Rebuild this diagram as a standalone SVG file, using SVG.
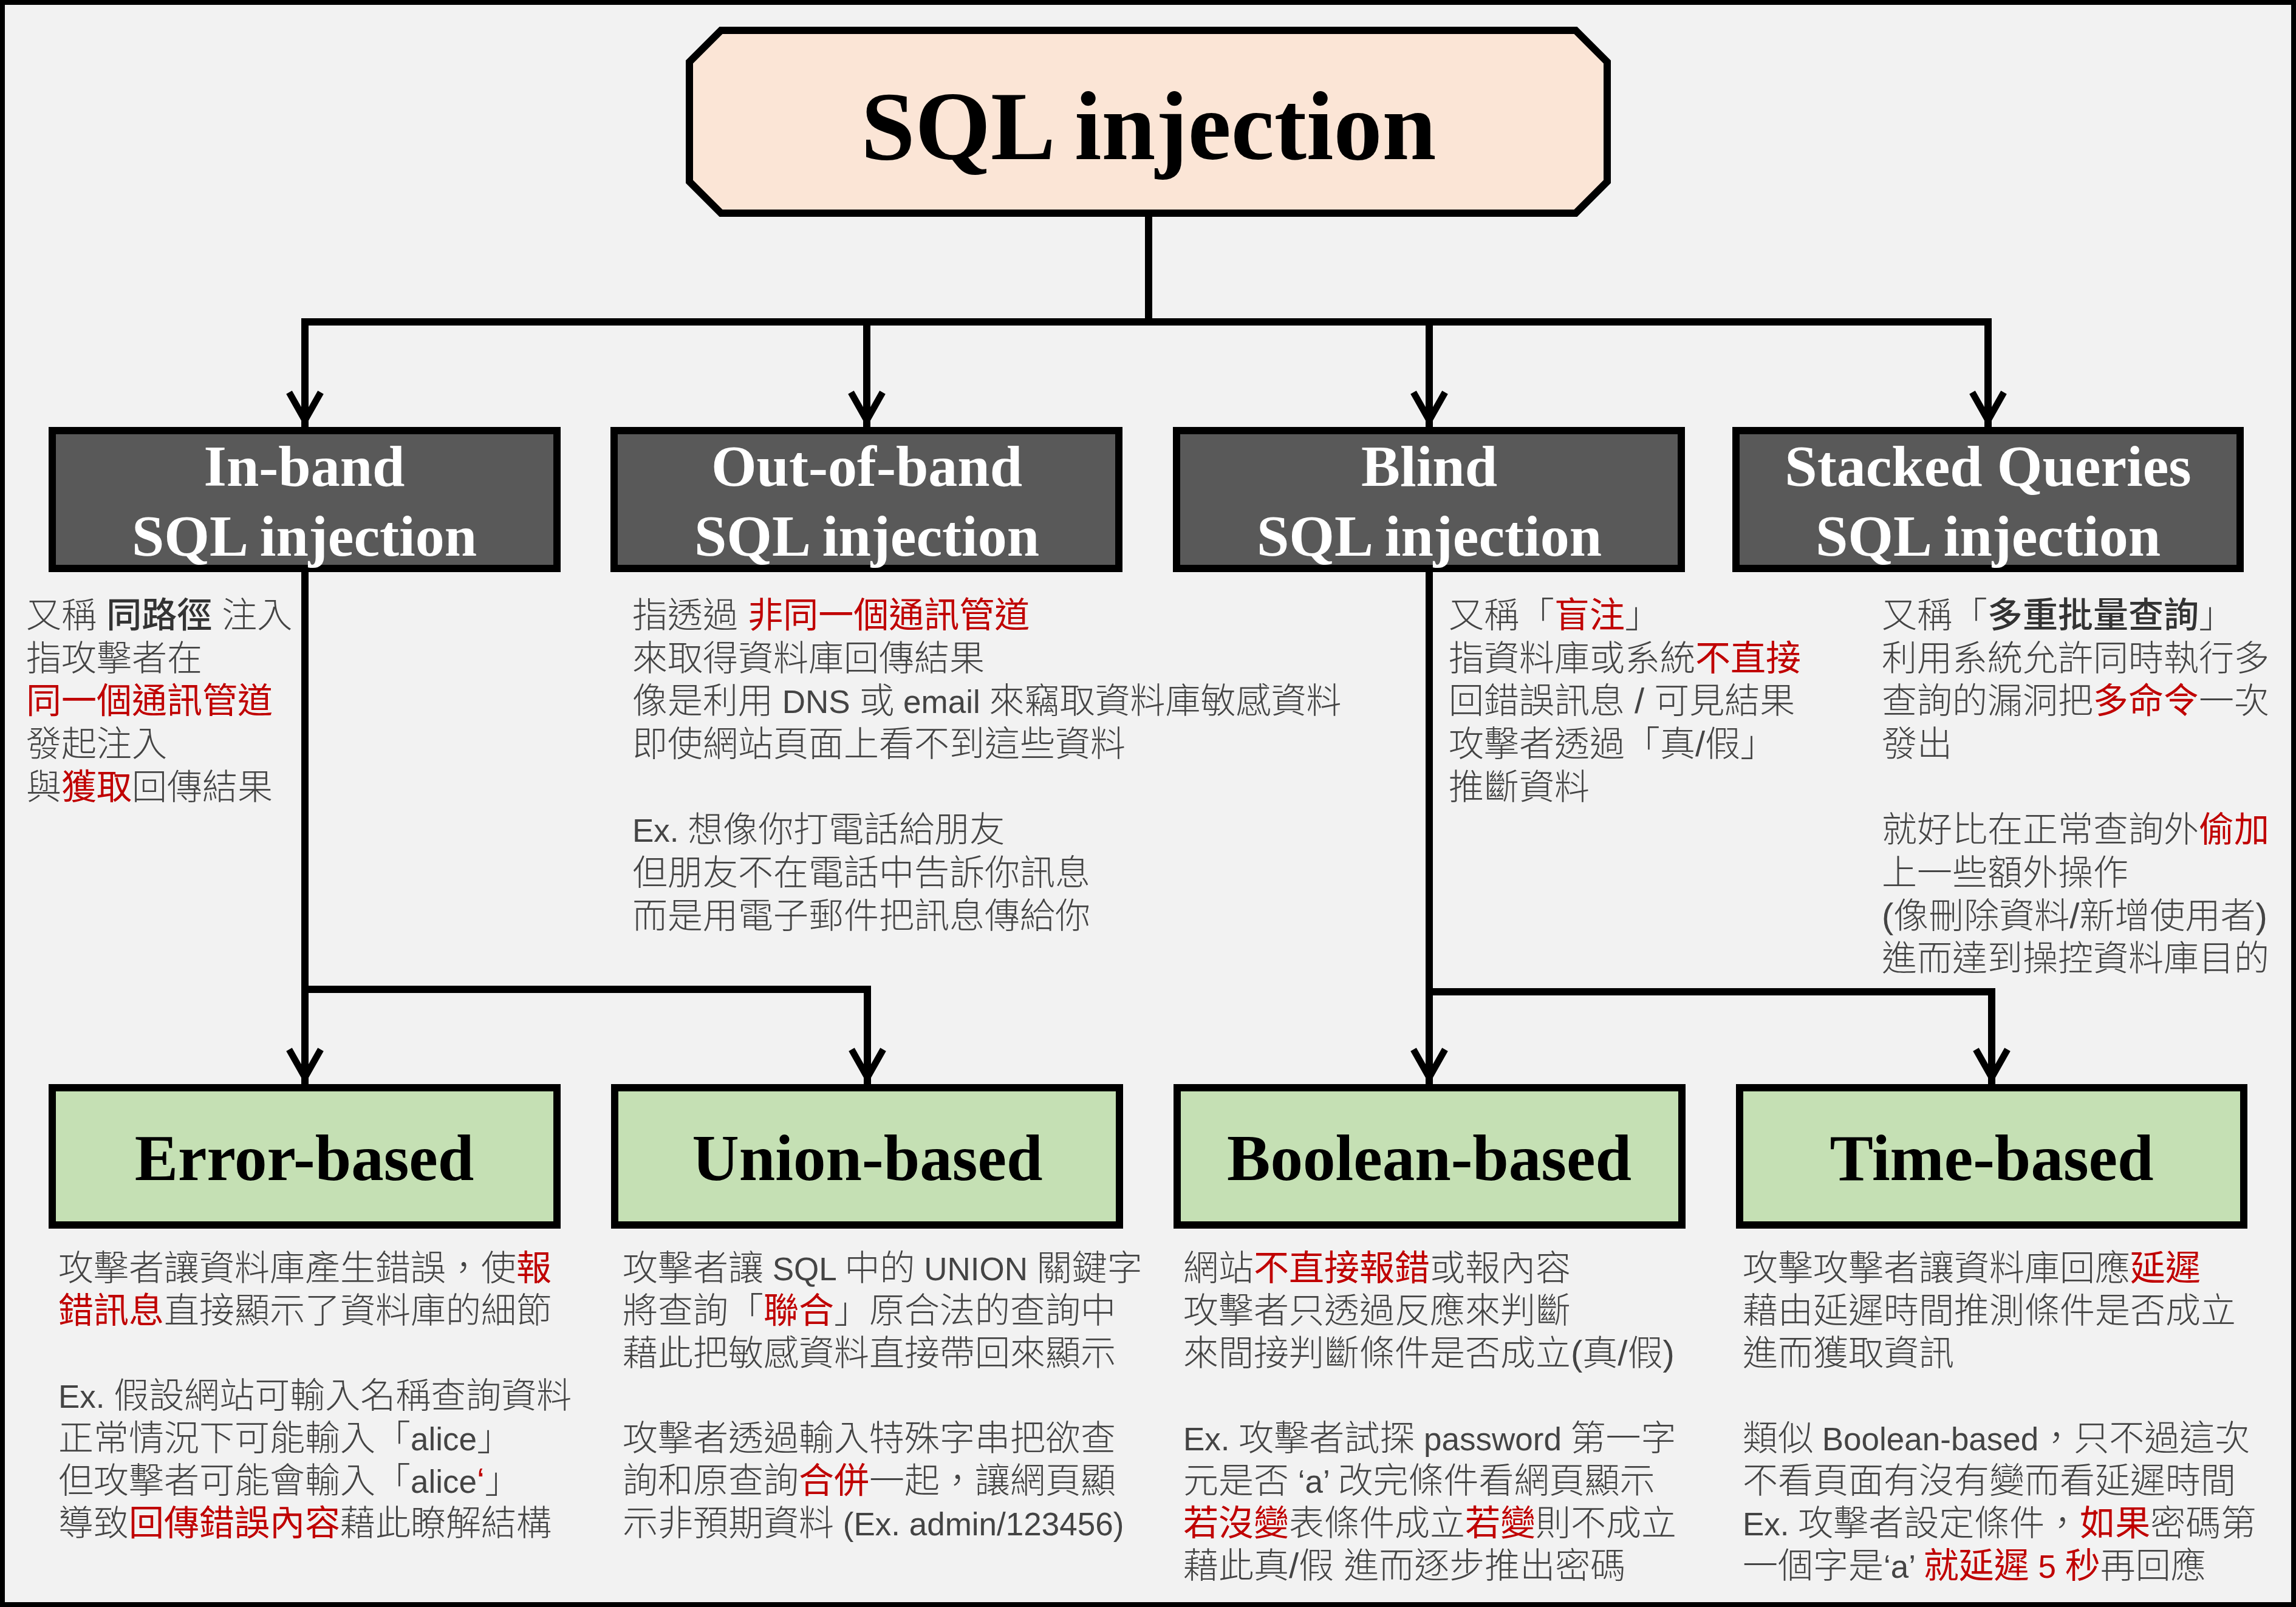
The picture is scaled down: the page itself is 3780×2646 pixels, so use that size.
<svg xmlns="http://www.w3.org/2000/svg" width="3780" height="2646" viewBox="0 0 3780 2646">
<defs>
<style>
.bg{fill:#f2f2f2}
.frame{fill:none;stroke:#000;stroke-width:8}
.title{fill:#fbe5d6;stroke:#000;stroke-width:12}
.l2{fill:#595959;stroke:#000;stroke-width:12}
.l3{fill:#c5e0b4;stroke:#000;stroke-width:12}
.ttl{font-family:"Liberation Serif","Times New Roman",serif;font-weight:bold;text-anchor:middle}
.t1{font-size:160px;fill:#000}
.t2{font-size:96px;fill:#fff}
.t3{font-size:107px;fill:#000}
.d{font-family:"Liberation Sans","Noto Sans CJK TC","Noto Sans CJK SC",sans-serif;font-size:58px;fill:#444;font-weight:300}
.l{font-size:53px}
.r{fill:#c00000;font-weight:400}
.b{font-weight:500;fill:#333}
.c{fill:none;stroke:#000;stroke-width:12;stroke-linecap:butt}
.a{marker-end:url(#arr)}
</style>
<marker id="arr" markerUnits="userSpaceOnUse" viewBox="-70 -40 80 80" markerWidth="80" markerHeight="80" refX="0" refY="0" orient="auto" overflow="visible">
<path d="M-57,-26 L-11,0 L-57,26" fill="none" stroke="#000" stroke-width="11" stroke-linejoin="miter" stroke-miterlimit="10"/>
</marker>
</defs>
<rect class="bg" x="0" y="0" width="3780" height="2646"/>
<rect class="frame" x="4" y="4" width="3772" height="2638"/>

<g id="connectors">
<path class="c" d="M1891,357 V530"/>
<path class="c" d="M496,530 H3279"/>
<path class="c a" d="M502,530 V703"/>
<path class="c a" d="M1427,530 V703"/>
<path class="c a" d="M2353,530 V703"/>
<path class="c a" d="M3273,530 V703"/>
<path class="c" d="M502,942 V1629"/>
<path class="c" d="M496,1629 H1434"/>
<path class="c a" d="M502,1629 V1785"/>
<path class="c a" d="M1428,1629 V1785"/>
<path class="c" d="M2353,942 V1633"/>
<path class="c" d="M2347,1633 H3285"/>
<path class="c a" d="M2353,1633 V1785"/>
<path class="c a" d="M3279,1633 V1785"/>
</g>

<g id="root">
<polygon class="title" points="1187,50 2594,50 2646,102 2646,299 2594,351 1187,351 1135,299 1135,102"/>
<text class="ttl t1" x="1891" y="262">SQL injection</text>
</g>

<g id="inband">
<rect class="l2" x="86" y="709" width="831" height="227"/>
<text class="ttl t2"><tspan x="501" y="800">In-band</tspan><tspan x="501" y="915">SQL injection</tspan></text>
<text class="d"><tspan x="43" y="1033">又稱 </tspan><tspan class="b">同路徑</tspan><tspan> 注入</tspan><tspan x="43" y="1104">指攻擊者在</tspan><tspan x="43" y="1174" class="r">同一個通訊管道</tspan><tspan x="43" y="1245">發起注入</tspan><tspan x="43" y="1316">與</tspan><tspan class="r">獲取</tspan><tspan>回傳結果</tspan></text>
</g>

<g id="outofband">
<rect class="l2" x="1011" y="709" width="831" height="227"/>
<text class="ttl t2"><tspan x="1427" y="800">Out-of-band</tspan><tspan x="1427" y="915">SQL injection</tspan></text>
<text class="d"><tspan x="1041" y="1033">指透過 </tspan><tspan class="r">非同一個通訊管道</tspan><tspan x="1041" y="1104">來取得資料庫回傳結果</tspan><tspan x="1041" y="1174">像是利用</tspan><tspan class="l"> DNS </tspan><tspan>或</tspan><tspan class="l"> email </tspan><tspan>來竊取資料庫敏感資料</tspan><tspan x="1041" y="1245">即使網站頁面上看不到這些資料</tspan><tspan x="1041" y="1386" class="l">Ex. </tspan><tspan>想像你打電話給朋友</tspan><tspan x="1041" y="1457">但朋友不在電話中告訴你訊息</tspan><tspan x="1041" y="1528">而是用電子郵件把訊息傳給你</tspan></text>
</g>

<g id="blind">
<rect class="l2" x="1937" y="709" width="831" height="227"/>
<text class="ttl t2"><tspan x="2353" y="800">Blind</tspan><tspan x="2353" y="915">SQL injection</tspan></text>
<text class="d"><tspan x="2385" y="1033">又稱「</tspan><tspan class="r">盲注</tspan><tspan>」</tspan><tspan x="2385" y="1104">指資料庫或系統</tspan><tspan class="r">不直接</tspan><tspan x="2385" y="1174">回錯誤訊息 / 可見結果</tspan><tspan x="2385" y="1245">攻擊者透過「真/假」</tspan><tspan x="2385" y="1316">推斷資料</tspan></text>
</g>

<g id="stacked">
<rect class="l2" x="2858" y="709" width="830" height="227"/>
<text class="ttl t2"><tspan x="3273" y="800">Stacked Queries</tspan><tspan x="3273" y="915">SQL injection</tspan></text>
<text class="d"><tspan x="3098" y="1033">又稱「</tspan><tspan class="b">多重批量查詢</tspan><tspan>」</tspan><tspan x="3098" y="1104">利用系統允許同時執行多</tspan><tspan x="3098" y="1174">查詢的漏洞把</tspan><tspan class="r">多命令</tspan><tspan>一次</tspan><tspan x="3098" y="1245">發出</tspan><tspan x="3098" y="1386">就好比在正常查詢外</tspan><tspan class="r">偷加</tspan><tspan x="3098" y="1457">上一些額外操作</tspan><tspan x="3098" y="1528">(像刪除資料/新增使用者)</tspan><tspan x="3098" y="1598">進而達到操控資料庫目的</tspan></text>
</g>

<g id="errorbased">
<rect class="l3" x="86" y="1791" width="831" height="226"/>
<text class="ttl t3" x="501" y="1943">Error-based</text>
<text class="d"><tspan x="96" y="2108">攻擊者讓資料庫產生錯誤，使</tspan><tspan class="r">報</tspan><tspan x="96" y="2178" class="r">錯訊息</tspan><tspan>直接顯示了資料庫的細節</tspan><tspan x="96" y="2318" class="l">Ex. </tspan><tspan>假設網站可輸入名稱查詢資料</tspan><tspan x="96" y="2388">正常情況下可能輸入「</tspan><tspan class="l">alice</tspan><tspan>」</tspan><tspan x="96" y="2458">但攻擊者可能會輸入「</tspan><tspan class="l">alice</tspan><tspan class="r">‘</tspan><tspan>」</tspan><tspan x="96" y="2528">導致</tspan><tspan class="r">回傳錯誤內容</tspan><tspan>藉此瞭解結構</tspan></text>
</g>

<g id="unionbased">
<rect class="l3" x="1012" y="1791" width="831" height="226"/>
<text class="ttl t3" x="1428" y="1943">Union-based</text>
<text class="d"><tspan x="1025" y="2108">攻擊者讓</tspan><tspan class="l"> SQL </tspan><tspan>中的</tspan><tspan class="l"> UNION </tspan><tspan>關鍵字</tspan><tspan x="1025" y="2178">將查詢「</tspan><tspan class="r">聯合</tspan><tspan>」原合法的查詢中</tspan><tspan x="1025" y="2248">藉此把敏感資料直接帶回來顯示</tspan><tspan x="1025" y="2388">攻擊者透過輸入特殊字串把欲查</tspan><tspan x="1025" y="2458">詢和原查詢</tspan><tspan class="r">合併</tspan><tspan>一起，讓網頁顯</tspan><tspan x="1025" y="2528">示非預期資料</tspan><tspan class="l"> (Ex. admin/123456)</tspan></text>
</g>

<g id="booleanbased">
<rect class="l3" x="1938" y="1791" width="831" height="226"/>
<text class="ttl t3" x="2353" y="1943">Boolean-based</text>
<text class="d"><tspan x="1948" y="2108">網站</tspan><tspan class="r">不直接報錯</tspan><tspan>或報內容</tspan><tspan x="1948" y="2178">攻擊者只透過反應來判斷</tspan><tspan x="1948" y="2248">來間接判斷條件是否成立(真/假)</tspan><tspan x="1948" y="2388" class="l">Ex. </tspan><tspan>攻擊者試探</tspan><tspan class="l"> password </tspan><tspan>第一字</tspan><tspan x="1948" y="2458">元是否</tspan><tspan class="l"> ‘a’ </tspan><tspan>改完條件看網頁顯示</tspan><tspan x="1948" y="2528" class="r">若沒變</tspan><tspan>表條件成立</tspan><tspan class="r">若變</tspan><tspan>則不成立</tspan><tspan x="1948" y="2598">藉此真/假 進而逐步推出密碼</tspan></text>
</g>

<g id="timebased">
<rect class="l3" x="2864" y="1791" width="830" height="226"/>
<text class="ttl t3" x="3279" y="1943">Time-based</text>
<text class="d"><tspan x="2869" y="2108">攻擊攻擊者讓資料庫回應</tspan><tspan class="r">延遲</tspan><tspan x="2869" y="2178">藉由延遲時間推測條件是否成立</tspan><tspan x="2869" y="2248">進而獲取資訊</tspan><tspan x="2869" y="2388">類似</tspan><tspan class="l"> Boolean-based</tspan><tspan>，只不過這次</tspan><tspan x="2869" y="2458">不看頁面有沒有變而看延遲時間</tspan><tspan x="2869" y="2528" class="l">Ex. </tspan><tspan>攻擊者設定條件，</tspan><tspan class="r">如果</tspan><tspan>密碼第</tspan><tspan x="2869" y="2598">一個字是</tspan><tspan class="l">‘a’ </tspan><tspan class="r">就延遲</tspan><tspan class="r l"> 5 </tspan><tspan class="r">秒</tspan><tspan>再回應</tspan></text>
</g>
</svg>
